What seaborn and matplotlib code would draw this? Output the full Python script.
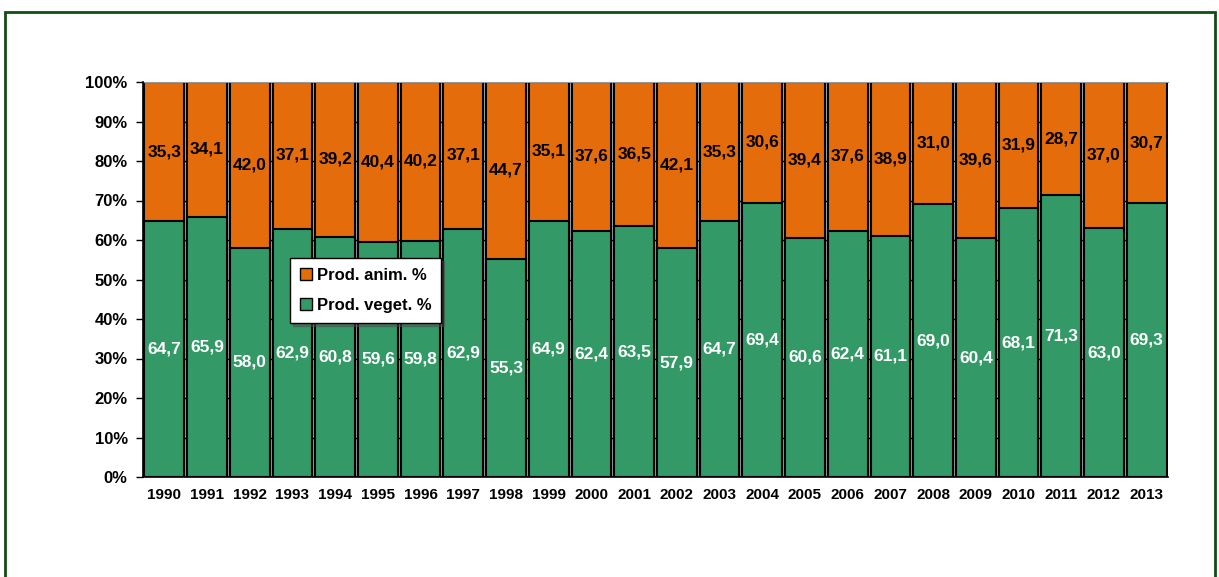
import matplotlib
matplotlib.use("Agg")
import matplotlib.pyplot as plt
import matplotlib.patches as mpatches
import pandas as pd
import seaborn as sns

# chart data
years = [str(y) for y in range(1990, 2014)]
veget = [64.7, 65.9, 58.0, 62.9, 60.8, 59.6, 59.8, 62.9, 55.3, 64.9, 62.4, 63.5,
         57.9, 64.7, 69.4, 60.6, 62.4, 61.1, 69.0, 60.4, 68.1, 71.3, 63.0, 69.3]
anim = [35.3, 34.1, 42.0, 37.1, 39.2, 40.4, 40.2, 37.1, 44.7, 35.1, 37.6, 36.5,
        42.1, 35.3, 30.6, 39.4, 37.6, 38.9, 31.0, 39.6, 31.9, 28.7, 37.0, 30.7]

ORANGE = "#E46C0A"
GREEN = "#339966"

sns.set_style("white")
plt.rcParams["font.family"] = ["Liberation Sans", "DejaVu Sans"]
plt.rcParams["font.weight"] = "bold"
plt.rcParams["text.color"] = "black"
plt.rcParams["xtick.color"] = "black"
plt.rcParams["ytick.color"] = "black"

df = pd.DataFrame({"year": years, "veget": veget, "anim": anim})
df["total"] = df["veget"] + df["anim"]

fig = plt.figure(figsize=(12.19, 5.77), dpi=100)
# outer frame like the excel chart area
fig.patches.append(mpatches.Rectangle((5 / 1219, -0.1), 1210 / 1219, 1 - 12 / 577 + 0.1,
                                      transform=fig.transFigure, fill=False,
                                      edgecolor="#124d12", linewidth=2))
ax = fig.add_axes([143 / 1219, 1 - 477 / 577, 1025 / 1219, 395 / 577])
ax.set_facecolor("#A3ABB3")

sns.barplot(data=df, x="year", y="total", color=ORANGE, saturation=1, width=0.93,
            edgecolor="black", linewidth=1.5, ax=ax, zorder=2)
sns.barplot(data=df, x="year", y="veget", color=GREEN, saturation=1, width=0.93,
            edgecolor="black", linewidth=1.5, ax=ax, zorder=3)

for i, (v, a) in enumerate(zip(veget, anim)):
    ax.text(i, v / 2, f"{v:.1f}".replace(".", ","), ha="center", va="center",
            color="white", fontsize=12.5, fontweight="bold", zorder=5)
    ax.text(i, v + a / 2, f"{a:.1f}".replace(".", ","), ha="center", va="center",
            color="black", fontsize=12.5, fontweight="bold", zorder=5)

ax.set_xlim(-0.5, len(years) - 0.5)
ax.set_ylim(0, 100)
ax.set_yticks(range(0, 101, 10))
ax.set_yticklabels([f"{t}%" for t in range(0, 101, 10)], fontsize=12, fontweight="bold")
ax.set_xticks(range(len(years)))
ax.set_xticklabels(years, fontsize=11, fontweight="bold")
ax.set_xticks([i - 0.5 for i in range(len(years) + 1)], minor=True)
ax.tick_params(axis="x", which="major", length=0, pad=8)
ax.tick_params(axis="x", which="minor", length=5, width=1, color="black", direction="out")
ax.tick_params(axis="y", length=5, width=1, color="black", direction="out", left=True, pad=6)
ax.set_xlabel("")
ax.set_ylabel("")
ax.grid(axis="y", color="black", linewidth=1, zorder=1)
ax.set_axisbelow(True)
ax.spines["right"].set_visible(False)
ax.spines["top"].set_color("#999999")
for side in ["left", "bottom"]:
    ax.spines[side].set_color("black")
    ax.spines[side].set_linewidth(1.2)
    ax.spines[side].set_zorder(6)

handles = [mpatches.Patch(facecolor=ORANGE, edgecolor="black", label="Prod. anim. %"),
           mpatches.Patch(facecolor=GREEN, edgecolor="black", label="Prod. veget. %")]
leg = ax.legend(handles=handles, loc="upper left", bbox_to_anchor=(147 / 1025, 1 - 176 / 395),
                borderaxespad=0, frameon=True, fancybox=False, shadow=True, framealpha=1,
                edgecolor="black", prop={"size": 12, "weight": "bold"}, handlelength=0.7,
                handleheight=0.7, handletextpad=0.3, labelspacing=0.9, borderpad=0.6)
leg.set_zorder(10)

fig.savefig("out.png", dpi=100)
